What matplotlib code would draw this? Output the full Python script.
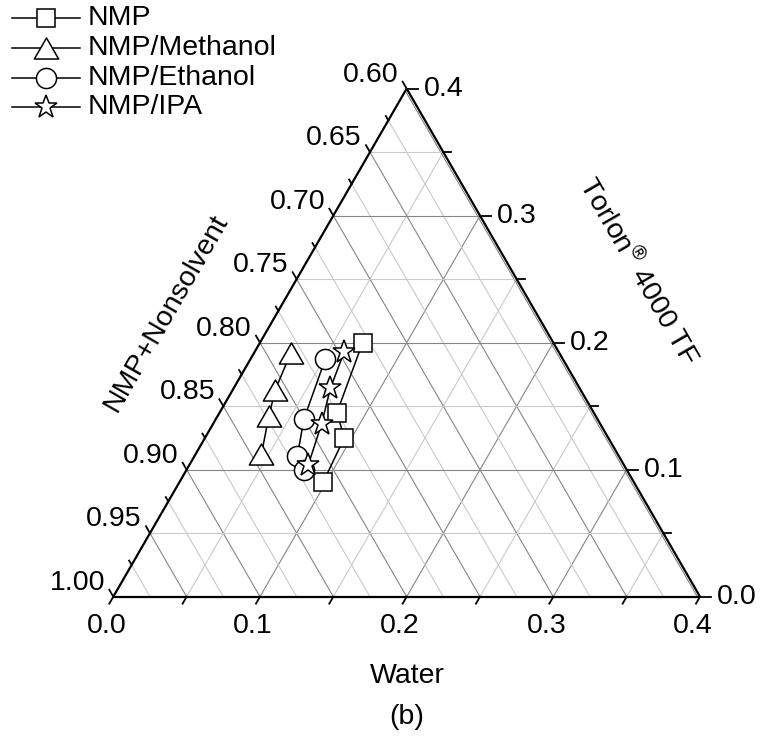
import numpy as np
import matplotlib
matplotlib.use("Agg")
import matplotlib.pyplot as plt
from matplotlib.path import Path

plt.rcParams["font.family"] = "Liberation Sans"
plt.rcParams["mathtext.fontset"] = "custom"
plt.rcParams["mathtext.rm"] = "Liberation Sans"

# mass fractions of water and polymer; NMP+nonsolvent makes up the rest
nmp_water = [0.070, 0.080, 0.095, 0.098]
nmp_polymer = [0.200, 0.145, 0.125, 0.090]
methanol_water = [0.025, 0.029, 0.035, 0.045]
methanol_polymer = [0.192, 0.163, 0.142, 0.112]
ethanol_water = [0.051, 0.060, 0.070, 0.080]
ethanol_polymer = [0.187, 0.140, 0.111, 0.100]
ipa_water = [0.061, 0.066, 0.074, 0.081]
ipa_polymer = [0.193, 0.164, 0.136, 0.104]

labels = ["NMP", "NMP/Methanol", "NMP/Ethanol", "NMP/IPA"]

SPAN = 0.4          # water and polymer axes run 0 -> 0.4
H = np.sqrt(3) / 2
PX = 1 / 1466.75    # data units per pixel

# equilateral triangle centred on its bounding box
tri = Path([(-1, -0.866), (1, -0.866), (0, 0.866), (-1, -0.866)],
           [Path.MOVETO, Path.LINETO, Path.LINETO, Path.CLOSEPOLY])
styles = [
    dict(marker="s", ms=12.5),
    dict(marker=tri, ms=17.5),
    dict(marker="o", ms=14.5),
    dict(marker="*", ms=17),
]


def to_xy(w, p):
    w = np.asarray(w, dtype=float)
    p = np.asarray(p, dtype=float)
    return w + p / 2, p * H


def seg(ax, a, b, **kw):
    (x1, y1), (x2, y2) = to_xy(*a), to_xy(*b)
    ax.plot([x1, x2], [y1, y2], solid_capstyle="butt", **kw)


fig = plt.figure(figsize=(7.67, 7.40), dpi=100)
ax = fig.add_axes([0, 0, 1, 1])
ax.set_xlim(-113.3 * PX, (767 - 113.3) * PX)
ax.set_ylim(-(740 - 596.7) * PX, 596.7 * PX)
ax.axis("off")

dark = "#858585"
light = "#cacaca"

# constant water lines
for k in range(1, 8):
    w = k * 0.05
    c = dark if k % 2 == 0 else light
    seg(ax, (w, 0), (w, SPAN - w), color=c, lw=0.8, zorder=1)
# constant NMP+nonsolvent lines (the 0.60 one sits just inside the edge)
for k in range(1, 17):
    c_ = k * 0.025 if k < 16 else SPAN - 0.0018
    c = dark if k % 2 == 0 else light
    seg(ax, (c_, 0), (0, c_), color=c, lw=0.8, zorder=1)
# constant polymer lines
for k in range(1, 8):
    p = k * 0.05
    c = dark if k % 2 == 0 else light
    seg(ax, (0, p), (SPAN - p, p), color=c, lw=0.8, zorder=1)

# triangle edges
for a, b in [((0, 0), (SPAN, 0)), ((SPAN, 0), (0, SPAN)), ((0, SPAN), (0, 0))]:
    seg(ax, a, b, color="black", lw=1.6, zorder=3)

tick_kw = dict(color="black", lw=1.3, zorder=3, clip_on=False)
fs = 20.5

# bottom axis: water
for k in range(0, 9):
    w = k * 0.05
    x0, y0 = to_xy(w, 0)
    L = 8 * PX
    x1, y1 = x0 - 0.5 * L, y0 - 0.866 * L
    ax.plot([x0, x1], [y0, y1], **tick_kw)
    if k % 2 == 0:
        ax.annotate(f"{w:.1f}", (x1, y1), xytext=(-3, -22), textcoords="offset pixels",
                    ha="center", va="center", fontsize=fs)

# left axis: NMP+nonsolvent
for k in range(0, 17):
    s = 0.6 + k * 0.025
    x0, y0 = to_xy(0, 1 - s)
    L = (8 if k % 2 == 0 else 5) * PX
    x1, y1 = x0 - 0.5 * L, y0 + 0.866 * L
    ax.plot([x0, x1], [y0, y1], **tick_kw)
    if k % 2 == 0:
        ax.annotate(f"{s:.2f}", (x1, y1), xytext=(-4, 7), textcoords="offset pixels",
                    ha="right", va="center", fontsize=fs)

# right axis: polymer
for k in range(0, 9):
    p = k * 0.05
    x0, y0 = to_xy(SPAN - p, p)
    L = (11 if k % 2 == 0 else 8) * PX
    ax.plot([x0, x0 + L], [y0, y0], **tick_kw)
    if k % 2 == 0:
        ax.annotate(f"{p:.1f}", (x0 + L, y0), xytext=(6, 0), textcoords="offset pixels",
                    ha="left", va="center", fontsize=fs)

# series
data = [
    (nmp_water, nmp_polymer),
    (methanol_water, methanol_polymer),
    (ethanol_water, ethanol_polymer),
    (ipa_water, ipa_polymer),
]
for (w, p), st in zip(data, styles):
    x, y = to_xy(w, p)
    ax.plot(x, y, color="black", lw=1.1, mfc="white", mec="black", mew=1.1,
            zorder=4, **st)

# axis titles
fig.text(407 / 767, 1 - 676 / 740, "Water", ha="center", va="center", fontsize=fs)
fig.text(407 / 767, 1 - 717 / 740, "(b)", ha="center", va="center", fontsize=fs)
fig.text(166 / 767, 1 - 313 / 740, "NMP+Nonsolvent", rotation=60, rotation_mode="anchor",
         ha="center", va="center", fontsize=fs)
fig.text(638 / 767, 1 - 271 / 740, r"Torlon$^{\circledR}$ 4000 TF", rotation=-60,
         rotation_mode="anchor", ha="center", va="center", fontsize=fs)

# legend
rows = [18, 48, 78, 107]
for lab, st, ry in zip(labels, styles, rows):
    yf = 1 - ry / 740
    fig.add_artist(plt.Line2D([12 / 767, 80 / 767], [yf, yf], color="black", lw=1.1))
    fig.add_artist(plt.Line2D([46 / 767], [yf], color="black", mfc="white", mec="black",
                              mew=1.1, **st))
    fig.text(88 / 767, yf, lab, ha="left", va="center", fontsize=fs)

fig.savefig("out.png", dpi=100)
